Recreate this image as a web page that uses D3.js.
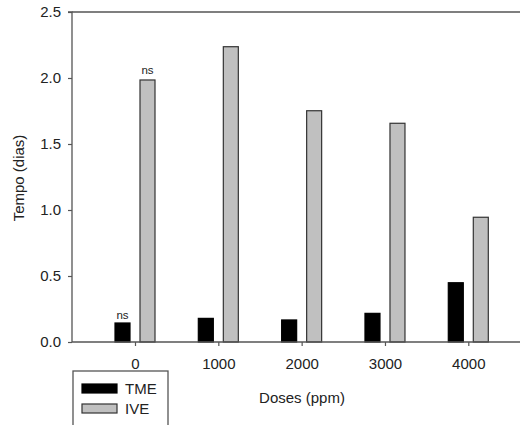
<!DOCTYPE html>
<html>
<head>
<meta charset="utf-8">
<script src="https://cdn.jsdelivr.net/npm/d3@7"></script>
<style>
  html, body { margin: 0; padding: 0; background: #fff; }
  svg { display: block; }
  text { font-family: "Liberation Sans", Arial, sans-serif; fill: #222; }
</style>
</head>
<body>
<svg id="chart" width="520" height="425"></svg>
<script>
// Doses and the two measured times (days)
const doses = [0, 1000, 2000, 3000, 4000];
const tme = [0.144, 0.179, 0.167, 0.217, 0.449];
const ive = [1.985, 2.237, 1.752, 1.657, 0.945];
const seriesNames = ["TME", "IVE"];
const seriesFill = ["#000000", "#c0c0c0"];
// significance notes: [series index, dose index, text]
const notes = [[0, 0, "ns"], [1, 0, "ns"]];
const yTicks = [0.0, 0.5, 1.0, 1.5, 2.0, 2.5];

const svg = d3.select("#chart");
const plotLeft = 72, plotTop = 12, plotBottom = 342, plotRight = 540;
const axisColor = "#555";

const y = d3.scaleLinear().domain([0, 2.5]).range([plotBottom, plotTop]);
const x = d3.scaleLinear().domain([0, 4000]).range([135, 468.3]);
const barW = 15, offset = 12.5;

// frame top line
svg.append("line").attr("x1", plotLeft).attr("x2", plotRight).attr("y1", plotTop).attr("y2", plotTop)
  .attr("stroke", axisColor).attr("stroke-width", 1.3);

// bars
const series = [tme, ive];
series.forEach((vals, si) => {
  svg.append("g").selectAll("rect").data(vals).join("rect")
    .attr("x", (d, i) => x(doses[i]) + (si === 0 ? -offset : offset) - barW / 2)
    .attr("y", d => y(d))
    .attr("width", barW)
    .attr("height", d => plotBottom - y(d))
    .attr("fill", seriesFill[si])
    .attr("stroke", si === 0 ? "#000" : "#333")
    .attr("stroke-width", 1.2);
});

// significance labels
notes.forEach(([si, di, t]) => {
  const v = series[si][di];
  svg.append("text")
    .attr("x", x(doses[di]) + (si === 0 ? -offset : offset))
    .attr("y", y(v) - (si === 0 ? 4 : 5.5))
    .attr("text-anchor", "middle")
    .attr("font-size", 11.5)
    .text(t);
});

// y axis
const yAxis = d3.axisLeft(y).tickValues(yTicks).tickFormat(d3.format(".1f"))
  .tickSize(4).tickPadding(7);
const gy = svg.append("g").attr("transform", `translate(${plotLeft},0)`).call(yAxis);
gy.select(".domain").attr("stroke", axisColor).attr("stroke-width", 1.3).attr("d", `M-4,${plotTop}H0V${plotBottom}`);
gy.selectAll(".tick line").attr("stroke", axisColor).attr("stroke-width", 1.2);
gy.selectAll(".tick text").attr("font-size", 15).attr("fill", "#222")
  .attr("font-family", "Liberation Sans, Arial, sans-serif");

// x axis
const xAxis = d3.axisBottom(x).tickValues(doses).tickFormat(d3.format("d"))
  .tickSize(4).tickPadding(12);
const gx = svg.append("g").attr("transform", `translate(0,${plotBottom})`).call(xAxis);
gx.select(".domain").attr("stroke", axisColor).attr("stroke-width", 1.3).attr("d", `M${plotLeft},0H${plotRight}`);
gx.selectAll(".tick line").attr("stroke", axisColor).attr("stroke-width", 1.2);
gx.selectAll(".tick text").attr("font-size", 15).attr("fill", "#222")
  .attr("font-family", "Liberation Sans, Arial, sans-serif");

// axis titles
svg.append("text").attr("x", 302).attr("y", 403).attr("text-anchor", "middle")
  .attr("font-size", 15).text("Doses (ppm)");
svg.append("text").attr("transform", "translate(24,178) rotate(-90)")
  .attr("text-anchor", "middle").attr("font-size", 15).text("Tempo (dias)");

// legend
const lg = svg.append("g");
lg.append("rect").attr("x", 73).attr("y", 371).attr("width", 95).attr("height", 70)
  .attr("fill", "#fff").attr("stroke", axisColor).attr("stroke-width", 1.3);
seriesNames.forEach((name, i) => {
  const yy = 384 + i * 20;
  lg.append("rect").attr("x", 82).attr("y", yy).attr("width", 35).attr("height", 9)
    .attr("fill", seriesFill[i]).attr("stroke", i === 0 ? "#000" : "#333").attr("stroke-width", 1.2);
  lg.append("text").attr("x", 125).attr("y", yy + 10).attr("font-size", 15).text(name);
});
</script>
</body>
</html>
